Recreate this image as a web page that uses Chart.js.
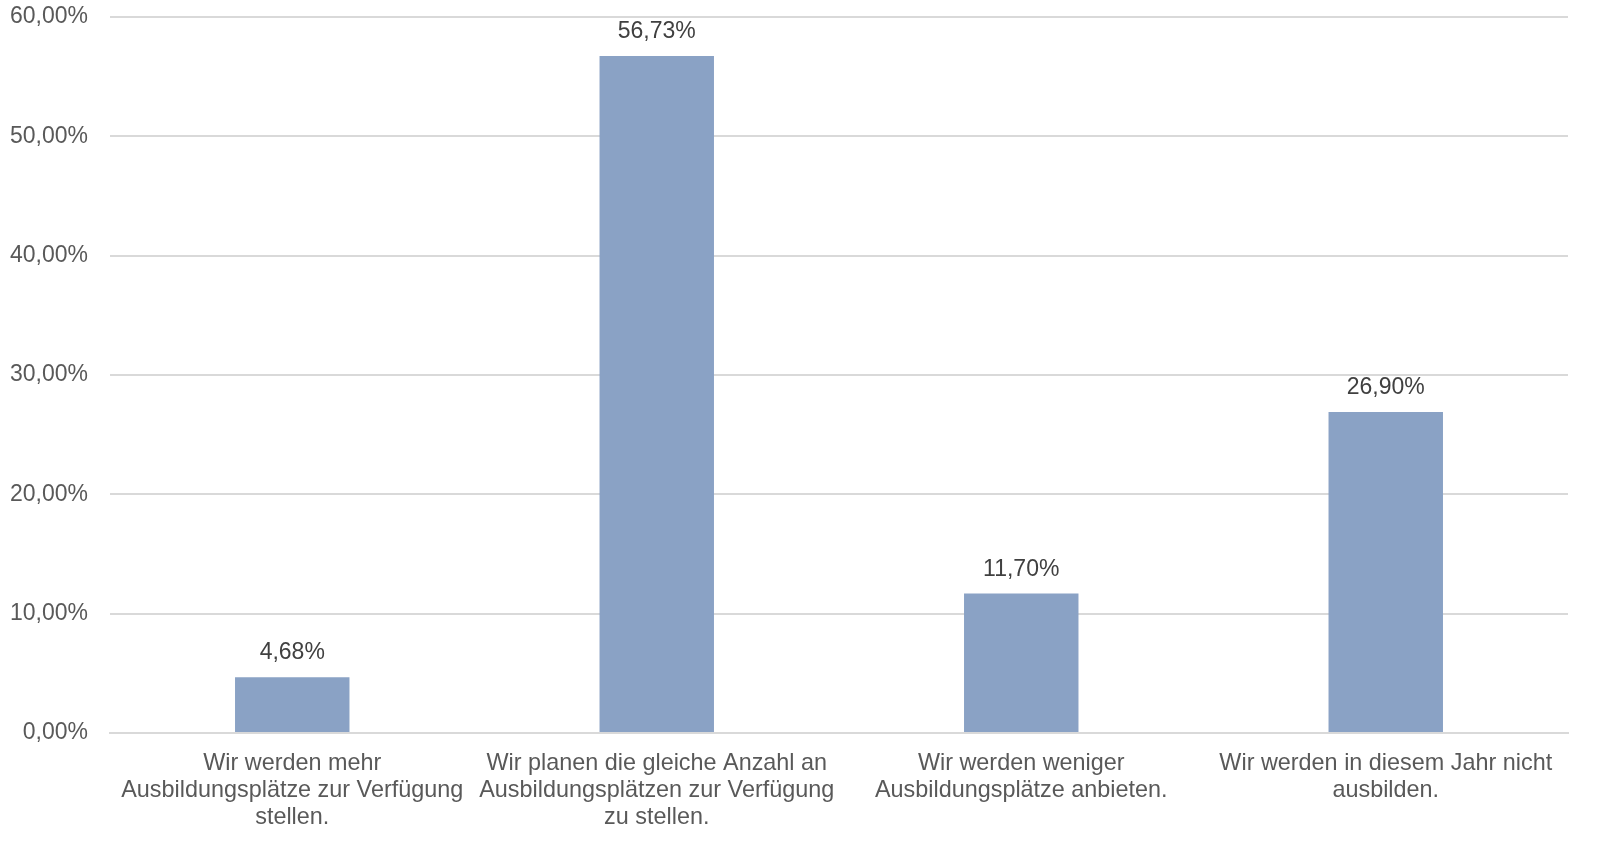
<!DOCTYPE html>
<html>
<head>
<meta charset="utf-8">
<script src="https://cdn.jsdelivr.net/npm/chart.js@4.4.1/dist/chart.umd.min.js"></script>
<style>
  html, body { margin: 0; padding: 0; background: #fff; }
  #wrap { width: 1608px; height: 846px; }
</style>
</head>
<body>
<div id="wrap"><canvas id="c"></canvas></div>
<script>
// Kategorien (mehrzeilig wie im Original)
const categories = [
  ['Wir werden mehr', 'Ausbildungsplätze zur Verfügung', 'stellen.'],
  ['Wir planen die gleiche Anzahl an', 'Ausbildungsplätzen zur Verfügung', 'zu stellen.'],
  ['Wir werden weniger', 'Ausbildungsplätze anbieten.'],
  ['Wir werden in diesem Jahr nicht', 'ausbilden.']
];
const values = [4.68, 56.73, 11.70, 26.90];
const yMin = 0;
const yMax = 60;
const yStep = 10;

const fmt = v => v.toFixed(2).replace('.', ',') + '%';
const FONT = '"Liberation Sans", Arial, sans-serif';

// Datenbeschriftungen über den Balken
const valueLabels = {
  id: 'valueLabels',
  afterDatasetsDraw(chart) {
    const ctx = chart.ctx;
    const meta = chart.getDatasetMeta(0);
    ctx.save();
    ctx.font = '23px ' + FONT;
    ctx.fillStyle = '#404040';
    ctx.textAlign = 'center';
    ctx.textBaseline = 'middle';
    meta.data.forEach((bar, i) => {
      ctx.fillText(fmt(values[i]), bar.x, bar.y - 24);
    });
    ctx.restore();
  }
};

const ctx = document.getElementById('c').getContext('2d');
new Chart(ctx, {
  type: 'bar',
  data: {
    labels: categories,
    datasets: [{
      data: values,
      backgroundColor: '#8aa2c5',
      borderWidth: 0,
      barPercentage: 0.314,
      categoryPercentage: 1
    }]
  },
  options: {
    responsive: true,
    maintainAspectRatio: false,
    animation: false,
    layout: { autoPadding: false, padding: { top: 17, right: 40, bottom: 0, left: 0 } },
    plugins: {
      legend: { display: false },
      tooltip: { enabled: false }
    },
    scales: {
      x: {
        grid: { display: false },
        border: { color: '#d9d9d9', width: 2 },
        ticks: {
          color: '#595959',
          font: { family: FONT, size: 23.4, lineHeight: 1.16 },
          maxRotation: 0,
          autoSkip: false,
          padding: 9
        },
        afterFit(scale) { scale.height = 113; }
      },
      y: {
        min: yMin,
        max: yMax,
        grid: { color: '#d9d9d9', lineWidth: 2, drawTicks: false },
        border: { display: false },
        ticks: {
          stepSize: yStep,
          color: '#595959',
          font: { family: FONT, size: 23 },
          padding: 22,
          callback: v => fmt(v)
        },
        afterFit(scale) {
          scale.width = 110;
          scale.paddingTop = 0;
          scale.paddingBottom = 0;
        }
      }
    }
  },
  plugins: [valueLabels]
});
</script>
</body>
</html>
